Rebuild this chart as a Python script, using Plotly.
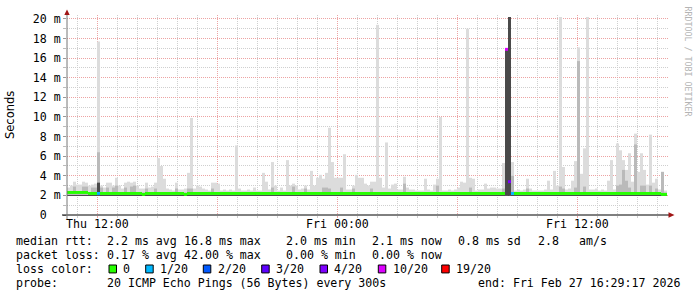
import pandas as pd
import plotly.graph_objects as go

# ------------------------------------------------------------------ data
START = "2026-02-26 10:29:17"          # left edge of the graph
RANGE_END = "2026-02-27 16:32:17"      # right edge of the graph area
STEP_MINUTES = 9                       # consolidation step of the arrays below

# upper edge of the light smoke (ms)
smoke_max = [
    2.8, 3.0, 3.4, 3.1, 3.1, 3.4, 3.3, 3.0, 3.1, 3.2,
    17.7, 3.0, 2.8, 3.3, 3.3, 3.0, 3.8, 3.0, 2.7, 3.3,
    3.4, 3.3, 3.4, 3.0, 2.7, 2.7, 3.3, 2.8, 2.9, 3.3,
    5.8, 5.0, 3.7, 2.7, 2.6, 2.5, 3.3, 2.6, 2.6, 2.7,
    4.3, 9.9, 2.7, 3.0, 2.9, 2.7, 2.6, 2.5, 3.3, 3.3,
    3.2, 2.5, 2.6, 2.5, 2.6, 2.5, 7.1, 2.7, 2.5, 2.5,
    2.6, 2.5, 2.8, 2.5, 2.5, 4.3, 3.4, 2.6, 5.4, 3.0,
    2.5, 2.8, 2.5, 5.6, 3.0, 3.2, 3.0, 2.6, 2.7, 3.0,
    2.6, 4.5, 3.0, 3.8, 4.1, 3.7, 4.3, 8.9, 5.4, 3.8,
    3.8, 3.8, 6.2, 2.6, 2.6, 3.0, 4.1, 3.8, 3.8, 3.2,
    3.0, 3.4, 3.4, 19.4, 3.8, 2.8, 7.4, 2.7, 3.1, 3.2,
    2.6, 2.6, 3.9, 2.8, 2.6, 2.6, 2.5, 2.5, 2.5, 3.7,
    2.6, 2.5, 3.1, 3.7, 10.0, 2.5, 2.5, 2.6, 2.5, 2.6,
    2.8, 3.4, 3.3, 19.0, 3.8, 3.7, 2.5, 2.6, 2.6, 3.2,
    2.7, 2.8, 2.8, 2.7, 2.7, 5.3, 16.9, 20.2, 5.4, 2.5,
    2.6, 2.5, 2.6, 3.7, 2.7, 2.5, 2.5, 2.5, 2.5, 2.6,
    3.5, 2.6, 4.5, 3.0, 20.2, 4.9, 2.6, 2.7, 3.5, 5.5,
    17.1, 4.2, 6.8, 20.2, 2.6, 2.6, 2.7, 2.5, 2.6, 2.5,
    3.5, 5.6, 2.6, 7.3, 6.6, 5.6, 4.6, 6.3, 3.4, 8.3,
    4.4, 6.3, 4.6, 3.1, 8.2, 3.3, 3.7, 2.6, 4.4, 2.5,
]

# upper edge of the denser (darker) smoke (ms)
smoke_mid = [
    2.3, 2.3, 2.9, 2.3, 2.3, 2.9, 2.9, 2.3, 2.8, 2.8,
    6.4, 2.8, 2.3, 2.8, 2.3, 2.8, 3.0, 2.3, 2.3, 2.8,
    2.3, 2.9, 3.0, 2.3, 2.3, 2.3, 2.7, 2.3, 2.3, 2.7,
    2.3, 2.3, 2.3, 2.3, 2.3, 2.3, 2.7, 2.3, 2.3, 2.3,
    2.7, 2.7, 2.3, 2.3, 2.3, 2.3, 2.3, 2.3, 2.7, 2.3,
    2.3, 2.3, 2.3, 2.3, 2.3, 2.3, 2.3, 2.3, 2.3, 2.3,
    2.3, 2.3, 2.3, 2.3, 2.3, 2.3, 2.3, 2.3, 2.8, 2.3,
    2.3, 2.3, 2.3, 2.3, 2.3, 2.9, 2.3, 2.3, 2.3, 2.7,
    2.3, 2.3, 2.3, 2.3, 2.3, 2.8, 2.8, 2.7, 2.3, 2.3,
    2.3, 2.8, 2.3, 2.3, 2.3, 2.7, 2.3, 2.3, 2.3, 2.3,
    2.3, 2.7, 2.3, 2.3, 2.3, 2.3, 2.3, 2.3, 2.3, 2.3,
    2.3, 2.3, 3.2, 2.3, 2.3, 2.3, 2.3, 2.3, 2.3, 2.3,
    2.3, 2.3, 2.3, 3.0, 2.3, 2.3, 2.3, 2.3, 2.3, 2.3,
    2.3, 2.3, 2.3, 2.3, 2.8, 2.3, 2.3, 2.3, 2.3, 2.3,
    2.3, 2.3, 2.3, 2.3, 2.3, 2.7, 2.3, 2.3, 4.0, 2.3,
    2.3, 2.3, 2.3, 2.7, 2.3, 2.3, 2.3, 2.3, 2.3, 2.3,
    2.3, 2.3, 2.3, 2.3, 2.9, 2.7, 2.3, 2.3, 2.3, 2.8,
    15.7, 2.3, 2.9, 2.3, 2.3, 2.3, 2.3, 2.3, 2.3, 2.3,
    2.3, 2.3, 2.3, 3.0, 3.1, 4.6, 3.5, 2.8, 2.3, 7.2,
    2.3, 3.0, 3.0, 2.3, 3.0, 2.3, 2.7, 2.3, 4.4, 2.3,
]

# upper edge of the darkest smoke (ms)
smoke_dark = [
    2.0, 2.0, 2.0, 2.0, 2.0, 2.0, 2.0, 2.0, 2.0, 2.0,
    3.3, 2.0, 2.0, 2.0, 2.0, 2.0, 2.0, 2.0, 2.0, 2.0,
    2.0, 2.0, 2.0, 2.0, 2.0, 2.0, 2.0, 2.0, 2.0, 2.0,
    2.0, 2.0, 2.0, 2.0, 2.0, 2.0, 2.0, 2.0, 2.0, 2.0,
    2.0, 2.0, 2.0, 2.0, 2.0, 2.0, 2.0, 2.0, 2.0, 2.0,
    2.0, 2.0, 2.0, 2.0, 2.0, 2.0, 2.0, 2.0, 2.0, 2.0,
    2.0, 2.0, 2.0, 2.0, 2.0, 2.0, 2.0, 2.0, 2.0, 2.0,
    2.0, 2.0, 2.0, 2.0, 2.0, 2.0, 2.0, 2.0, 2.0, 2.0,
    2.0, 2.0, 2.0, 2.0, 2.0, 2.0, 2.0, 2.0, 2.0, 2.0,
    2.0, 2.0, 2.0, 2.0, 2.0, 2.0, 2.0, 2.0, 2.0, 2.0,
    2.0, 2.0, 2.0, 2.0, 2.0, 2.0, 2.0, 2.0, 2.0, 2.0,
    2.0, 2.0, 2.0, 2.0, 2.0, 2.0, 2.0, 2.0, 2.0, 2.0,
    2.0, 2.0, 2.0, 2.0, 2.0, 2.0, 2.0, 2.0, 2.0, 2.0,
    2.0, 2.0, 2.0, 2.0, 2.0, 2.0, 2.0, 2.0, 2.0, 2.0,
    2.0, 2.0, 2.0, 2.0, 2.0, 2.0, 16.9, 20.2, 2.0, 2.0,
    2.0, 2.0, 2.0, 2.0, 2.0, 2.0, 2.0, 2.0, 2.0, 2.0,
    2.0, 2.0, 2.0, 2.0, 2.0, 2.0, 2.0, 2.0, 2.0, 2.0,
    2.0, 2.0, 2.0, 2.0, 2.0, 2.0, 2.0, 2.0, 2.0, 2.0,
    2.0, 2.0, 2.0, 2.0, 2.0, 2.0, 2.0, 2.0, 2.0, 2.0,
    2.0, 2.0, 2.0, 2.0, 2.0, 2.0, 2.0, 2.0, 2.0, 2.0,
]

SMOKE_FLOOR = 1.95

# median round trip time (ms)
median_rtt = [
    2.3, 2.3, 2.3, 2.3, 2.3, 2.3, 2.3, 2.2, 2.2, 2.2,
    2.2, 2.2, 2.2, 2.2, 2.2, 2.2, 2.2, 2.2, 2.2, 2.2,
    2.2, 2.2, 2.2, 2.2, 2.2, 2.1, 2.2, 2.2, 2.2, 2.2,
    2.2, 2.2, 2.2, 2.2, 2.2, 2.2, 2.2, 2.2, 2.2, 2.1,
    2.2, 2.2, 2.2, 2.2, 2.2, 2.2, 2.2, 2.2, 2.2, 2.2,
    2.2, 2.2, 2.2, 2.2, 2.2, 2.2, 2.2, 2.2, 2.2, 2.2,
    2.2, 2.2, 2.2, 2.2, 2.2, 2.2, 2.2, 2.2, 2.2, 2.2,
    2.2, 2.2, 2.2, 2.2, 2.2, 2.2, 2.2, 2.2, 2.2, 2.2,
    2.2, 2.2, 2.2, 2.2, 2.2, 2.2, 2.2, 2.2, 2.2, 2.2,
    2.2, 2.2, 2.2, 2.2, 2.2, 2.2, 2.2, 2.2, 2.2, 2.2,
    2.2, 2.2, 2.2, 2.2, 2.2, 2.2, 2.2, 2.2, 2.2, 2.2,
    2.2, 2.2, 2.2, 2.2, 2.2, 2.2, 2.2, 2.2, 2.2, 2.2,
    2.2, 2.2, 2.2, 2.2, 2.2, 2.2, 2.2, 2.2, 2.2, 2.2,
    2.2, 2.2, 2.2, 2.2, 2.2, 2.2, 2.2, 2.2, 2.2, 2.2,
    2.2, 2.2, 2.2, 2.2, 2.2, 2.2, 16.9, 3.4, 2.2, 2.2,
    2.2, 2.2, 2.2, 2.2, 2.2, 2.2, 2.2, 2.2, 2.2, 2.2,
    2.2, 2.2, 2.2, 2.2, 2.2, 2.2, 2.2, 2.2, 2.2, 2.2,
    2.2, 2.2, 2.2, 2.2, 2.2, 2.2, 2.2, 2.2, 2.2, 2.2,
    2.2, 2.2, 2.2, 2.2, 2.2, 2.2, 2.2, 2.2, 2.2, 2.2,
    2.2, 2.2, 2.2, 2.2, 2.2, 2.2, 2.2, 2.2, 2.1, 2.1,
]

# lost pings out of 20 per step
lost_pings = [
    0, 0, 0, 0, 0, 0, 0, 0, 0, 0, 1, 0, 0, 0, 0, 0, 0, 0, 0, 0,
    0, 0, 0, 0, 0, 0, 0, 0, 0, 0, 0, 0, 0, 0, 0, 0, 0, 0, 0, 0,
    0, 0, 0, 0, 0, 0, 0, 0, 0, 0, 0, 0, 0, 0, 0, 0, 0, 0, 0, 0,
    0, 0, 0, 0, 0, 0, 0, 0, 0, 0, 0, 0, 0, 0, 0, 0, 0, 0, 0, 0,
    0, 0, 0, 0, 0, 0, 0, 0, 0, 0, 0, 0, 0, 0, 0, 0, 0, 0, 0, 0,
    0, 0, 0, 0, 0, 0, 0, 0, 0, 0, 0, 0, 0, 0, 0, 0, 0, 0, 0, 0,
    0, 0, 0, 0, 0, 0, 0, 0, 0, 0, 0, 0, 0, 0, 0, 0, 0, 0, 0, 0,
    0, 0, 0, 0, 0, 0, 10, 4, 1, 0, 0, 0, 0, 0, 0, 0, 0, 0, 0, 0,
    0, 0, 0, 0, 0, 0, 0, 0, 0, 0, 0, 0, 0, 0, 0, 0, 0, 0, 0, 0,
    0, 0, 0, 0, 0, 0, 0, 0, 0, 0, 0, 0, 0, 0, 0, 0, 0, 0, 0, 0,
]

y_tick_vals = [0, 2, 4, 6, 8, 10, 12, 14, 16, 18, 20]
y_tick_text = ["0\u00a0\u00a0", "2 m", "4 m", "6 m", "8 m", "10 m",
               "12 m", "14 m", "16 m", "18 m", "20 m"]
x_tick_vals = ["2026-02-26 12:00:00", "2026-02-26 18:00:00", "2026-02-27 00:00:00",
               "2026-02-27 06:00:00", "2026-02-27 12:00:00"]
x_tick_text = ["Thu 12:00", "", "Fri 00:00", "", "Fri 12:00"]

loss_labels = ["0", "1/20", "2/20", "3/20", "4/20", "10/20", "19/20"]
loss_thresholds = [0, 1, 2, 3, 4, 10, 19]
loss_colors = ["#26ff00", "#00b8ff", "#0059ff", "#5e00ff", "#7e00ff", "#dd00ff", "#ff0000"]

rtt_stats = ["2.2 ms avg", "16.8 ms max", "2.0 ms min", "2.1 ms now", "0.8 ms sd", "2.8", "am/s"]
loss_stats = ["0.17 % avg", "42.00 % max", "0.00 % min", "0.00 % now"]
probe_text = "20 ICMP Echo Pings (56 Bytes) every 300s"
end_text = "end: Fri Feb 27 16:29:17 2026"

# ------------------------------------------------------------------ figure
W, H = 697, 297
L, R, T, B = 67, 668, 13, 215
MONO = "DejaVu Sans Mono"
FS = 11.6
RED_GRID = "#eda3a3"
GRAY_GRID = "#cfcfcf"


def px(x):
    return (x - L) / (R - L)


def py(y):
    return (B - y) / (B - T)


n = len(median_rtt)
times = pd.date_range(START, periods=n, freq=f"{STEP_MINUTES}min") + pd.Timedelta(minutes=STEP_MINUTES / 2)
bar_w = STEP_MINUTES * 60 * 1000


def loss_color(lost):
    c = loss_colors[0]
    for t, col in zip(loss_thresholds, loss_colors):
        if lost >= t:
            c = col
    return c


fig = go.Figure()
for top, col in ((smoke_max, "#dcdcdc"), (smoke_mid, "#bababa"), (smoke_dark, "#4a4a4a")):
    fig.add_trace(go.Bar(
        x=times, y=[v - SMOKE_FLOOR for v in top], base=SMOKE_FLOOR, width=bar_w,
        marker=dict(color=col, line=dict(width=0)), hoverinfo="skip"))

fig.add_trace(go.Bar(
    x=times, y=[0.3] * n, base=[m - 0.15 for m in median_rtt], width=bar_w,
    marker=dict(color=[loss_color(v) for v in lost_pings], line=dict(width=0)), hoverinfo="skip"))

fig.update_layout(
    width=W, height=H, margin=dict(l=L, r=W - R, t=T, b=H - B),
    paper_bgcolor="white", plot_bgcolor="white", showlegend=False, barmode="overlay",
    font=dict(family=MONO, size=FS, color="black"),
)
fig.update_xaxes(
    type="date", range=[START, RANGE_END], tickmode="array", tickvals=x_tick_vals, ticktext=x_tick_text,
    showticklabels=False,
    showgrid=True, gridcolor=RED_GRID, griddash="1px,1px", gridwidth=1,
    ticks="outside", ticklen=2, tickcolor=RED_GRID, showline=False, zeroline=False,
    minor=dict(dtick=3600000, tick0="2026-02-26 00:00:00", showgrid=True, gridcolor=GRAY_GRID,
               griddash="1px,1px", ticks="outside", ticklen=2, tickcolor=GRAY_GRID),
)
fig.update_yaxes(
    range=[0, (B - T) / 9.9], tickmode="array", tickvals=y_tick_vals, ticktext=y_tick_text,
    showgrid=True, gridcolor=RED_GRID, griddash="1px,1px", gridwidth=1,
    ticks="outside", ticklen=3, tickcolor="#999999", showline=False, zeroline=False,
    tickfont=dict(family=MONO, size=FS, color="black"),
    minor=dict(dtick=1, tick0=0, showgrid=True, gridcolor=GRAY_GRID, griddash="1px,1px",
               ticks="outside", ticklen=3, tickcolor="#bbbbbb"),
)

shapes = []
# axes
shapes.append(dict(type="line", xref="paper", yref="paper", x0=px(62), x1=px(670), y0=py(B), y1=py(B),
                   line=dict(color="black", width=1)))
shapes.append(dict(type="line", xref="paper", yref="paper", x0=px(L), x1=px(L), y0=py(219), y1=py(11),
                   line=dict(color="#777777", width=1)))
# arrows
shapes.append(dict(type="path", xref="paper", yref="paper",
                   path=f"M {px(64.3)} {py(13)} L {px(69.7)} {py(13)} L {px(67)} {py(7.5)} Z",
                   fillcolor="#a01515", line=dict(width=0)))
shapes.append(dict(type="path", xref="paper", yref="paper",
                   path=f"M {px(668.5)} {py(212.3)} L {px(668.5)} {py(217.7)} L {px(674.5)} {py(B)} Z",
                   fillcolor="#a01515", line=dict(width=0)))

annotations = []


def text(x, y, s, size=FS, family=MONO, color="black", angle=0, xanchor="left", xref="paper"):
    annotations.append(dict(xref=xref, yref="paper", x=px(x) if xref == "paper" else x, y=py(y), text=s,
                            showarrow=False, xanchor=xanchor, yanchor="middle", textangle=angle,
                            borderpad=0, borderwidth=0, font=dict(family=family, size=size, color=color)))


# time axis labels placed on the date scale
for tv, tt in zip(x_tick_vals, x_tick_text):
    if tt:
        text(tv, 224, tt, xanchor="center", xref="x")

ROWS = [241.5, 255.5, 269.5, 283.5]
text(15.5, ROWS[0], "median rtt:")
for x, s in zip([106.5, 184, 285.5, 372, 457.5, 537.5, 579], rtt_stats):
    text(x, ROWS[0], s)
text(15.5, ROWS[1], "packet loss:")
for x, s in zip([106.5, 184, 285.5, 372], loss_stats):
    text(x, ROWS[1], s)
text(15.5, ROWS[2], "loss color:")
box_x = [109, 145.7, 203.3, 261.7, 320, 378.3, 441.7]
for bx, lab, col in zip(box_x, loss_labels, loss_colors):
    shapes.append(dict(type="rect", xref="paper", yref="paper", x0=px(bx), x1=px(bx + 7.5),
                       y0=py(273.5), y1=py(265.5), fillcolor=col, line=dict(color="black", width=1)))
    text(bx + 14.3, ROWS[2], lab)
text(15.5, ROWS[3], "probe:")
text(106.5, ROWS[3], probe_text)
text(477.5, ROWS[3], end_text)

# axis title and watermark
text(10, 114, "Seconds", size=11.5, family="DejaVu Sans", angle=-90, xanchor="center")
text(688, 60, "RRDTOOL / TOBI OETIKER", size=8.3, color="#b4b4b4", angle=90, xanchor="center")

fig.update_layout(shapes=shapes, annotations=annotations)
fig.write_html("out.html")
